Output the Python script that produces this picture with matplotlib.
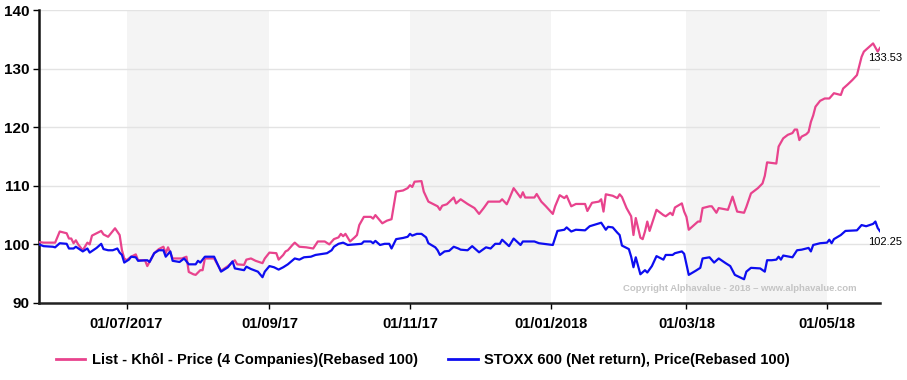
import matplotlib
matplotlib.use("Agg")
import matplotlib.pyplot as plt
import pandas as pd
from matplotlib.lines import Line2D

plt.rcParams['font.family'] = ['Liberation Sans', 'DejaVu Sans']

# series (rebased to 100)
khol_dates = [
    "2017-05-24", "2017-05-26", "2017-05-31", "2017-06-02", "2017-06-05", "2017-06-06", "2017-06-07",
    "2017-06-08", "2017-06-09", "2017-06-10", "2017-06-12", "2017-06-14", "2017-06-15", "2017-06-16",
    "2017-06-20", "2017-06-21", "2017-06-23", "2017-06-26", "2017-06-28", "2017-06-29", "2017-06-30",
    "2017-07-01", "2017-07-03", "2017-07-05", "2017-07-06", "2017-07-09", "2017-07-10", "2017-07-13",
    "2017-07-15", "2017-07-17", "2017-07-18", "2017-07-19", "2017-07-21", "2017-07-25", "2017-07-27",
    "2017-07-28", "2017-07-30", "2017-07-31", "2017-08-02", "2017-08-03", "2017-08-04", "2017-08-08",
    "2017-08-10", "2017-08-11", "2017-08-14", "2017-08-17", "2017-08-18", "2017-08-21", "2017-08-22",
    "2017-08-24", "2017-08-26", "2017-08-29", "2017-08-30", "2017-09-01", "2017-09-04", "2017-09-05",
    "2017-09-07", "2017-09-08", "2017-09-09", "2017-09-11", "2017-09-12", "2017-09-14", "2017-09-17",
    "2017-09-20", "2017-09-22", "2017-09-25", "2017-09-27", "2017-09-29", "2017-10-01", "2017-10-02",
    "2017-10-03", "2017-10-04", "2017-10-06", "2017-10-08", "2017-10-09", "2017-10-10", "2017-10-12",
    "2017-10-15", "2017-10-16", "2017-10-17", "2017-10-20", "2017-10-22", "2017-10-24", "2017-10-26",
    "2017-10-29", "2017-10-31", "2017-11-01", "2017-11-02", "2017-11-03", "2017-11-06", "2017-11-07",
    "2017-11-09", "2017-11-11", "2017-11-13", "2017-11-14", "2017-11-15", "2017-11-17", "2017-11-20",
    "2017-11-21", "2017-11-23", "2017-11-26", "2017-11-29", "2017-12-01", "2017-12-03", "2017-12-05",
    "2017-12-10", "2017-12-11", "2017-12-13", "2017-12-14", "2017-12-16", "2017-12-19", "2017-12-20",
    "2017-12-21", "2017-12-25", "2017-12-26", "2017-12-28", "2017-12-30", "2018-01-02", "2018-01-03",
    "2018-01-05", "2018-01-07", "2018-01-08", "2018-01-10", "2018-01-12", "2018-01-16", "2018-01-17",
    "2018-01-19", "2018-01-22", "2018-01-23", "2018-01-24", "2018-01-25", "2018-01-28", "2018-01-30",
    "2018-01-31", "2018-02-01", "2018-02-03", "2018-02-05", "2018-02-06", "2018-02-07", "2018-02-09",
    "2018-02-10", "2018-02-11", "2018-02-12", "2018-02-13", "2018-02-16", "2018-02-19", "2018-02-20",
    "2018-02-22", "2018-02-23", "2018-02-24", "2018-02-27", "2018-02-28", "2018-03-01", "2018-03-02",
    "2018-03-04", "2018-03-06", "2018-03-07", "2018-03-08", "2018-03-11", "2018-03-12", "2018-03-14",
    "2018-03-15", "2018-03-19", "2018-03-21", "2018-03-23", "2018-03-26", "2018-03-27", "2018-03-29",
    "2018-04-01", "2018-04-03", "2018-04-04", "2018-04-05", "2018-04-09", "2018-04-10", "2018-04-12",
    "2018-04-14", "2018-04-16", "2018-04-17", "2018-04-18", "2018-04-19", "2018-04-20", "2018-04-22",
    "2018-04-23", "2018-04-24", "2018-04-25", "2018-04-26", "2018-04-28", "2018-04-30", "2018-05-02",
    "2018-05-04", "2018-05-06", "2018-05-07", "2018-05-08", "2018-05-10", "2018-05-12", "2018-05-14",
    "2018-05-16", "2018-05-17", "2018-05-21", "2018-05-23", "2018-05-24",
]
khol_values = [
    100.4, 100.3, 100.3, 102.2, 101.9, 101.0, 101.0,
    100.2, 100.7, 100.0, 99.0, 100.3, 100.0, 101.5,
    102.3, 101.7, 101.3, 102.75, 101.6, 99.0, 97.6,
    97.3, 97.9, 98.3, 97.3, 97.3, 96.3, 98.5,
    99.2, 99.6, 98.5, 99.5, 97.6, 97.6, 97.9,
    95.3, 94.9, 94.8, 95.6, 95.6, 97.6, 97.6,
    96.2, 95.5, 96.3, 97.3, 96.6, 96.5, 97.4,
    97.6, 97.2, 96.8, 97.6, 98.6, 98.5, 97.4,
    98.2, 98.8, 99.0, 99.9, 100.3, 99.6, 99.5,
    99.3, 100.5, 100.5, 100.0, 100.9, 101.2, 101.8,
    101.4, 101.8, 100.5, 101.2, 101.6, 103.3, 104.7,
    104.7, 104.4, 105.0, 103.6, 104.05, 104.3, 109.0,
    109.2, 109.6, 110.1, 109.8, 110.7, 110.8, 109.0,
    107.3, 106.9, 106.5, 105.9, 106.6, 106.85, 108.0,
    107.0, 107.7, 106.9, 106.2, 105.2, 106.2, 107.3,
    107.3, 107.7, 106.85, 107.7, 109.6, 108.0, 108.9,
    108.0, 108.0, 108.6, 107.3, 106.5, 105.2, 106.5,
    108.4, 107.9, 108.3, 106.5, 106.9, 106.9, 105.7,
    107.1, 107.3, 107.7, 105.6, 108.55, 108.3, 107.9,
    108.55, 108.1, 106.2, 104.8, 101.6, 104.5, 101.15,
    100.9, 102.2, 103.9, 102.3, 105.9, 105.0, 104.8,
    105.4, 105.0, 106.3, 107.0, 105.6, 104.7, 102.5,
    103.2, 103.9, 103.9, 106.2, 106.5, 106.5, 105.4,
    106.2, 105.9, 108.15, 105.6, 105.4, 106.4, 108.7,
    109.6, 110.4, 111.7, 114.0, 113.8, 116.7, 118.1,
    118.7, 119.0, 119.6, 119.6, 117.8, 118.4, 118.8,
    119.2, 120.9, 122.0, 123.5, 124.5, 124.9, 124.9,
    125.8, 125.6, 125.5, 126.6, 127.3, 128.05, 128.9,
    132.0, 132.9, 134.3, 132.9, 133.53,
]

stoxx_dates = [
    "2017-05-24", "2017-05-26", "2017-05-30", "2017-05-31", "2017-06-02", "2017-06-05", "2017-06-06",
    "2017-06-08", "2017-06-09", "2017-06-12", "2017-06-14", "2017-06-15", "2017-06-18", "2017-06-20",
    "2017-06-21", "2017-06-23", "2017-06-25", "2017-06-27", "2017-06-28", "2017-06-29", "2017-06-30",
    "2017-07-02", "2017-07-03", "2017-07-05", "2017-07-06", "2017-07-10", "2017-07-11", "2017-07-13",
    "2017-07-15", "2017-07-17", "2017-07-18", "2017-07-20", "2017-07-21", "2017-07-24", "2017-07-26",
    "2017-07-28", "2017-07-31", "2017-08-01", "2017-08-02", "2017-08-04", "2017-08-08", "2017-08-11",
    "2017-08-14", "2017-08-16", "2017-08-17", "2017-08-21", "2017-08-22", "2017-08-24", "2017-08-27",
    "2017-08-29", "2017-08-30", "2017-09-01", "2017-09-03", "2017-09-05", "2017-09-07", "2017-09-09",
    "2017-09-12", "2017-09-14", "2017-09-16", "2017-09-19", "2017-09-21", "2017-09-26", "2017-09-28",
    "2017-09-29", "2017-10-01", "2017-10-03", "2017-10-05", "2017-10-08", "2017-10-11", "2017-10-12",
    "2017-10-15", "2017-10-16", "2017-10-17", "2017-10-19", "2017-10-21", "2017-10-23", "2017-10-24",
    "2017-10-26", "2017-10-29", "2017-10-31", "2017-11-01", "2017-11-02", "2017-11-04", "2017-11-06",
    "2017-11-08", "2017-11-09", "2017-11-12", "2017-11-13", "2017-11-14", "2017-11-16", "2017-11-18",
    "2017-11-20", "2017-11-22", "2017-11-23", "2017-11-26", "2017-11-28", "2017-12-01", "2017-12-04",
    "2017-12-06", "2017-12-08", "2017-12-10", "2017-12-11", "2017-12-14", "2017-12-16", "2017-12-19",
    "2017-12-20", "2017-12-25", "2017-12-27", "2018-01-02", "2018-01-04", "2018-01-07", "2018-01-08",
    "2018-01-10", "2018-01-12", "2018-01-16", "2018-01-18", "2018-01-23", "2018-01-25", "2018-01-26",
    "2018-01-28", "2018-01-30", "2018-01-31", "2018-02-01", "2018-02-04", "2018-02-05", "2018-02-06",
    "2018-02-07", "2018-02-09", "2018-02-11", "2018-02-12", "2018-02-14", "2018-02-16", "2018-02-19",
    "2018-02-20", "2018-02-23", "2018-02-24", "2018-02-27", "2018-02-28", "2018-03-02", "2018-03-05",
    "2018-03-07", "2018-03-08", "2018-03-11", "2018-03-13", "2018-03-15", "2018-03-18", "2018-03-20",
    "2018-03-22", "2018-03-26", "2018-03-27", "2018-03-29", "2018-04-02", "2018-04-04", "2018-04-05",
    "2018-04-07", "2018-04-09", "2018-04-10", "2018-04-11", "2018-04-12", "2018-04-16", "2018-04-18",
    "2018-04-20", "2018-04-23", "2018-04-24", "2018-04-25", "2018-04-28", "2018-05-01", "2018-05-02",
    "2018-05-03", "2018-05-04", "2018-05-07", "2018-05-09", "2018-05-14", "2018-05-16", "2018-05-18",
    "2018-05-21", "2018-05-22", "2018-05-23", "2018-05-24",
]
stoxx_values = [
    100.0, 99.7, 99.6, 99.5, 100.2, 100.1, 99.3,
    99.3, 99.6, 98.8, 99.3, 98.6, 99.4, 100.1,
    99.2, 99.0, 99.0, 99.3, 98.6, 98.2, 96.9,
    97.4, 97.9, 97.8, 97.2, 97.3, 97.0, 98.5,
    99.0, 99.0, 97.9, 98.8, 97.2, 97.0, 97.6,
    96.6, 96.6, 97.2, 96.9, 97.9, 97.9, 95.35,
    96.1, 97.1, 95.9, 95.6, 96.2, 95.8, 95.35,
    94.4, 95.35, 96.3, 96.1, 95.7, 96.1, 96.6,
    97.6, 97.4, 97.8, 97.9, 98.2, 98.5, 99.0,
    99.6, 100.1, 100.3, 99.9, 100.0, 100.1, 100.5,
    100.5, 100.2, 100.6, 99.9, 100.1, 100.1, 99.3,
    100.9, 101.1, 101.3, 101.8, 101.5, 101.8, 101.8,
    101.2, 100.2, 99.5, 99.0, 98.2, 98.8, 98.9,
    99.6, 99.3, 99.1, 99.0, 99.7, 98.65, 99.5,
    99.3, 100.1, 100.1, 100.8, 99.7, 101.0, 99.9,
    100.5, 100.5, 100.2, 99.9, 102.3, 102.5, 102.9,
    102.2, 102.5, 102.4, 103.1, 103.7, 102.5, 103.0,
    102.9, 102.0, 101.6, 99.8, 99.2, 97.9, 96.1,
    97.8, 94.9, 95.6, 95.2, 96.3, 98.0, 97.4,
    98.2, 98.2, 98.5, 98.8, 98.4, 94.8, 95.5,
    96.0, 97.6, 97.8, 96.9, 97.6, 96.8, 96.3,
    94.8, 94.05, 95.35, 96.0, 95.9, 95.35, 97.3,
    97.3, 97.4, 97.9, 97.4, 98.1, 97.8, 99.0,
    99.1, 99.4, 98.8, 99.9, 100.2, 100.3, 100.8,
    100.2, 100.9, 101.6, 102.3, 102.4, 103.3, 103.1,
    103.5, 103.9, 102.8, 102.25,
]

khol_label = "List - Khôl - Price (4 Companies)(Rebased 100)"
stoxx_label = "STOXX 600 (Net return), Price(Rebased 100)"

tick_dates = ["2017-07-01", "2017-09-01", "2017-11-01", "2018-01-01", "2018-03-01", "2018-05-01"]
tick_labels = ["01/07/2017", "01/09/17", "01/11/17", "01/01/2018", "01/03/18", "01/05/18"]
bands = [("2017-07-01", "2017-09-01"), ("2017-11-01", "2018-01-01"), ("2018-03-01", "2018-05-01")]

pink = '#e8438d'
blue = '#0d0df0'

W, H = 907, 380
fig = plt.figure(figsize=(W / 100, H / 100), dpi=100)
ax = fig.add_axes([39 / W, 1 - 303 / H, 841 / W, 293 / H])

for a, b in bands:
    ax.axvspan(pd.Timestamp(a), pd.Timestamp(b), color='#f4f4f4', lw=0, zorder=0)

kd = pd.to_datetime(khol_dates)
sd = pd.to_datetime(stoxx_dates)
ax.plot(kd, khol_values, color=pink, lw=1.6, zorder=3)
ax.plot(sd, stoxx_values, color=blue, lw=1.6, zorder=4)

ax.set_xlim(pd.Timestamp("2017-05-24"), pd.Timestamp("2018-05-24"))
ax.set_ylim(90, 140)
ax.set_yticks([90, 100, 110, 120, 130, 140])
ax.grid(axis='y', color='#e3e3e3', lw=1, zorder=1)
ax.set_axisbelow(True)

ax.set_xticks(pd.to_datetime(tick_dates))
ax.set_xticklabels(tick_labels)
for lab in ax.get_xticklabels():
    lab.set_fontweight('bold')
    lab.set_fontsize(10.5)
for lab in ax.get_yticklabels():
    lab.set_fontweight('bold')
    lab.set_fontsize(11)
ax.tick_params(axis='y', length=4.5, width=1, pad=2)
ax.tick_params(axis='x', length=4, width=1, pad=6)

for s in ['top', 'right']:
    ax.spines[s].set_visible(False)
ax.spines['left'].set_linewidth(1.8)
ax.spines['bottom'].set_linewidth(1.8)
ax.spines['left'].set_color('#111111')
ax.spines['bottom'].set_color('#222222')

# last values
ax.annotate(f"{khol_values[-1]:.2f}", (kd[-1], khol_values[-1]), xytext=(4, -4),
            textcoords='offset points', ha='center', va='top', fontsize=8, annotation_clip=False)
ax.annotate(f"{stoxx_values[-1]:.2f}", (sd[-1], stoxx_values[-1]), xytext=(4, -4),
            textcoords='offset points', ha='center', va='top', fontsize=8, annotation_clip=False)

ax.text(0.9727, 0.051, "Copyright Alphavalue - 2018 \u2013 www.alphavalue.com", transform=ax.transAxes,
        ha='right', va='center', fontsize=6.8, color='#c4c4c4', fontweight='bold')

handles = [Line2D([], [], color=pink, lw=2), Line2D([], [], color=blue, lw=2)]
fig.legend(handles, [khol_label, stoxx_label], loc='center left',
           bbox_to_anchor=(56 / W, 1 - 360 / H), ncol=2, frameon=False,
           prop={'weight': 'bold', 'size': 10.5}, handlelength=2.0, handletextpad=0.45,
           columnspacing=2.1, borderpad=0, borderaxespad=0)

fig.savefig("out.png", dpi=100)
